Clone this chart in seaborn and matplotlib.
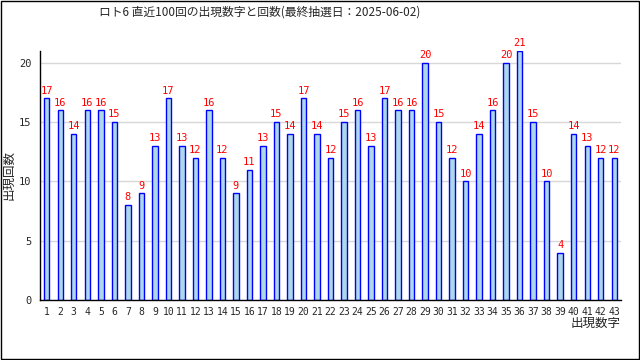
import numpy as np
import matplotlib
matplotlib.use("Agg")
import matplotlib.pyplot as plt
import seaborn as sns
import pandas as pd
from matplotlib.patches import Rectangle

numbers = [str(i) for i in range(1, 44)]
counts = [17, 16, 14, 16, 16, 15, 8, 9, 13, 17,
          13, 12, 16, 12, 9, 11, 13, 15, 14, 17,
          14, 12, 15, 16, 13, 17, 16, 16, 20, 15,
          12, 10, 14, 16, 20, 21, 15, 10, 4, 14,
          13, 12, 12]
title = "ロト6 直近100回の出現数字と回数(最終抽選日：2025-06-02)"
xlabel = "出現数字"
ylabel = "出現回数"

sns.set_style("white")
plt.rcParams['font.family'] = ['DejaVu Sans Mono', 'Noto Sans CJK JP']

df = pd.DataFrame({"num": numbers, "count": counts})

fig = plt.figure(figsize=(6.4, 3.6), dpi=100)
ax = fig.add_axes([40 / 640, 60 / 360, 581 / 640, 249 / 360])

sns.barplot(data=df, x="num", y="count", ax=ax, width=0.4,
            color="#ADD8E6", edgecolor="#0000FF", linewidth=1, saturation=1)

ax.set_xlim(-0.5, 42.5)
ax.set_ylim(0, 21)
ax.set_yticks([0, 5, 10, 15, 20])
ax.yaxis.grid(True, color="#D8D8D8", linewidth=1)
ax.set_axisbelow(True)

for s in ["top", "right"]:
    ax.spines[s].set_visible(False)
for s in ["left", "bottom"]:
    ax.spines[s].set_color("black")
    ax.spines[s].set_linewidth(1)

# ticks between categories, pointing inward
ax.set_xticks(np.arange(-0.5, 43, 1), minor=True)
ax.tick_params(axis="x", which="minor", direction="in", length=4, width=1, color="black")
ax.tick_params(axis="x", which="major", length=0, labelsize=7, pad=5)
ax.tick_params(axis="y", direction="in", length=4, width=1, color="black", labelsize=7.5, pad=6)

ax.bar_label(ax.containers[0], color="red", fontsize=7.5, padding=2)

ax.set_xlabel(xlabel, loc="right", fontsize=9, labelpad=0, family=['Noto Sans CJK JP'])
ax.set_ylabel("")
fig.text(9 / 640, 1 - 175 / 360, ylabel, rotation=90, ha="center", va="center",
         fontsize=9, family=['Noto Sans CJK JP'])

fig.text(260 / 640, 348 / 360, title, ha="center", va="center", fontsize=8.5,
         family=['Noto Sans CJK JP', 'DejaVu Sans'])

fig.patches.append(Rectangle((0.0008, 0.0014), 0.9984, 0.9972, transform=fig.transFigure,
                             fill=False, edgecolor="black", linewidth=1))

fig.savefig("out.png", dpi=100)
